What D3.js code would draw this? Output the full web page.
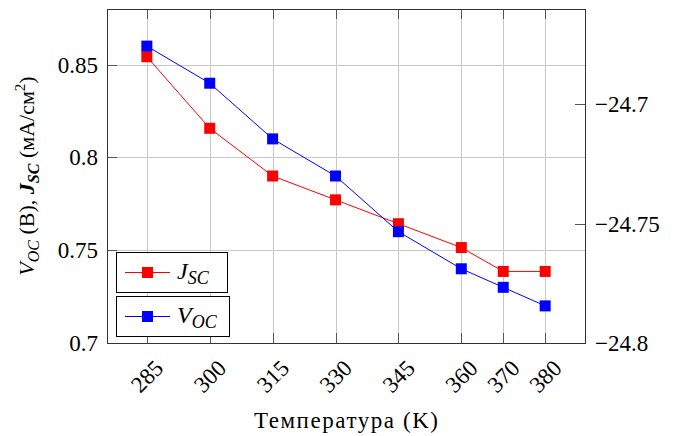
<!DOCTYPE html>
<html>
<head>
<meta charset="utf-8">
<script src="https://cdn.jsdelivr.net/npm/d3@7"></script>
<style>
  body { margin: 0; background: #fff; }
</style>
</head>
<body>
<svg id="chart" width="678" height="436" style="font-family: 'Liberation Serif', 'Times New Roman', 'DejaVu Serif', serif;"></svg>
<script>
// temperatures (K)
const temps = [285, 300, 315, 330, 345, 360, 370, 380];
// open-circuit voltage, left axis (V)
const voc = [0.86, 0.84, 0.81, 0.79, 0.76, 0.74, 0.73, 0.72];
// short-circuit current density, right axis (mA/cm2)
const jsc = [-24.68, -24.71, -24.73, -24.74, -24.75, -24.76, -24.77, -24.77];
const leftTicks = [0.7, 0.75, 0.8, 0.85];
const rightTicks = [-24.8, -24.75, -24.7];

const width = 678;
const height = 436;
const margin = { top: 9, right: 93, bottom: 93, left: 107 };
const fontSize = 23;
const tickLen = 10;
const serif = "'Liberation Serif', 'Times New Roman', 'DejaVu Serif', serif";

const svg = d3.select('#chart');

const x = d3.scaleLinear()
    .domain([275.5, 389.5])
    .range([margin.left, width - margin.right]);
const yLeft = d3.scaleLinear()
    .domain([0.7, 0.88])
    .range([height - margin.bottom, margin.top]);
const yRight = d3.scaleLinear()
    .domain([-24.8, -24.66])
    .range([height - margin.bottom, margin.top]);

const x0 = margin.left, x1 = width - margin.right;
const y0 = height - margin.bottom, y1 = margin.top;

// grid
const grid = svg.append('g').attr('stroke', '#c8c8c8').attr('stroke-width', 1);
temps.forEach(function (t) {
    grid.append('line')
        .attr('x1', Math.round(x(t)) + 0.5).attr('x2', Math.round(x(t)) + 0.5)
        .attr('y1', y1).attr('y2', y0);
});
leftTicks.forEach(function (v) {
    grid.append('line')
        .attr('x1', x0).attr('x2', x1)
        .attr('y1', Math.round(yLeft(v)) + 0.5).attr('y2', Math.round(yLeft(v)) + 0.5);
});

// tick marks (inside)
const ticks = svg.append('g').attr('stroke', '#555').attr('stroke-width', 1);
temps.forEach(function (t) {
    const xx = Math.round(x(t)) + 0.5;
    ticks.append('line').attr('x1', xx).attr('x2', xx).attr('y1', y0).attr('y2', y0 - tickLen);
    ticks.append('line').attr('x1', xx).attr('x2', xx).attr('y1', y1).attr('y2', y1 + tickLen);
});
leftTicks.forEach(function (v) {
    const yy = Math.round(yLeft(v)) + 0.5;
    ticks.append('line').attr('x1', x0).attr('x2', x0 + tickLen).attr('y1', yy).attr('y2', yy);
});
rightTicks.forEach(function (v) {
    const yy = Math.round(yRight(v)) + 0.5;
    ticks.append('line').attr('x1', x1).attr('x2', x1 - tickLen).attr('y1', yy).attr('y2', yy);
});

// frame
svg.append('rect')
    .attr('x', x0 + 0.5).attr('y', y1 + 0.5)
    .attr('width', x1 - x0).attr('height', y0 - y1)
    .attr('fill', 'none').attr('stroke', '#333').attr('stroke-width', 1);

// tick labels
svg.append('g').selectAll('text')
    .data(leftTicks)
    .join('text')
    .attr('x', x0 - 9)
    .attr('y', function (d) { return yLeft(d); })
    .attr('dy', '0.35em')
    .attr('text-anchor', 'end')
    .attr('font-family', serif)
    .attr('font-size', fontSize)
    .text(function (d) { return d3.format('')(d); });

svg.append('g').selectAll('text')
    .data(rightTicks)
    .join('text')
    .attr('x', x1 + 10)
    .attr('y', function (d) { return yRight(d); })
    .attr('dy', '0.35em')
    .attr('text-anchor', 'start')
    .attr('font-family', serif)
    .attr('font-size', fontSize)
    .text(function (d) { return '\u2212' + Math.abs(d); });

svg.append('g').selectAll('text')
    .data(temps)
    .join('text')
    .attr('transform', function (d) { return 'translate(' + x(d) + ',' + (y0 + 33) + ') rotate(-45)'; })
    .attr('dy', '0.35em')
    .attr('text-anchor', 'middle')
    .attr('font-family', serif)
    .attr('font-size', fontSize)
    .text(function (d) { return d; });

// axis titles
svg.append('text')
    .attr('x', (x0 + x1) / 2 - 92)
    .attr('y', 428)
    .attr('font-family', serif)
    .attr('font-size', 23)
    .attr('textLength', 184)
    .attr('lengthAdjust', 'spacing')
    .text('Температура (K)');

const yl = svg.append('text')
    .attr('transform', 'translate(34,' + ((y0 + y1) / 2) + ') rotate(-90)')
    .attr('text-anchor', 'middle')
    .attr('font-family', serif)
    .attr('font-size', 22);
yl.append('tspan').attr('font-style', 'italic').text('V');
yl.append('tspan').attr('font-style', 'italic').attr('font-size', 16).attr('dy', 5).text('OC');
yl.append('tspan').attr('dy', -5).text(' (B), ');
yl.append('tspan').attr('font-style', 'italic').attr('font-weight', 'bold').text('J');
yl.append('tspan').attr('font-style', 'italic').attr('font-weight', 'bold').attr('font-size', 16).attr('dy', 5).text('SC');
yl.append('tspan').attr('dy', -5).text(' (мА/см');
yl.append('tspan').attr('font-size', 15).attr('dy', -9).text('2');
yl.append('tspan').attr('dy', 9).text(')');

// series
const series = [
    { name: 'J', sub: 'SC', values: jsc, y: yRight, color: '#ff0000' },
    { name: 'V', sub: 'OC', values: voc, y: yLeft, color: '#0000ff' }
];
const ms = 11;

series.forEach(function (s) {
    const pts = temps.map(function (t, i) { return [x(t), s.y(s.values[i])]; });
    svg.append('path')
        .attr('d', d3.line()(pts))
        .attr('fill', 'none')
        .attr('stroke', s.color)
        .attr('stroke-width', 1);
    svg.append('g').selectAll('rect')
        .data(pts)
        .join('rect')
        .attr('x', function (d) { return d[0] - ms / 2; })
        .attr('y', function (d) { return d[1] - ms / 2; })
        .attr('width', ms).attr('height', ms)
        .attr('fill', s.color);
});

// legends (two separate boxes)
const legendTop = [252, 296];
const legendWidth = [111, 113];
series.forEach(function (s, i) {
    const g = svg.append('g');
    g.append('rect')
        .attr('x', 116.5).attr('y', legendTop[i] + 0.5)
        .attr('width', legendWidth[i]).attr('height', 40)
        .attr('fill', '#fff').attr('stroke', '#000').attr('stroke-width', 1);
    const cy = legendTop[i] + 20;
    g.append('line')
        .attr('x1', 125).attr('x2', 170).attr('y1', cy + 0.5).attr('y2', cy + 0.5)
        .attr('stroke', s.color).attr('stroke-width', 1);
    g.append('rect')
        .attr('x', 147.5 - ms / 2).attr('y', cy + 0.5 - ms / 2)
        .attr('width', ms).attr('height', ms).attr('fill', s.color);
    const t = g.append('text')
        .attr('x', 177).attr('y', cy + 7)
        .attr('font-family', serif)
        .attr('font-size', 24).attr('font-style', 'italic');
    t.append('tspan').text(s.name);
    t.append('tspan').attr('font-size', 18).attr('dy', 5).text(s.sub);
});
</script>
</body>
</html>
